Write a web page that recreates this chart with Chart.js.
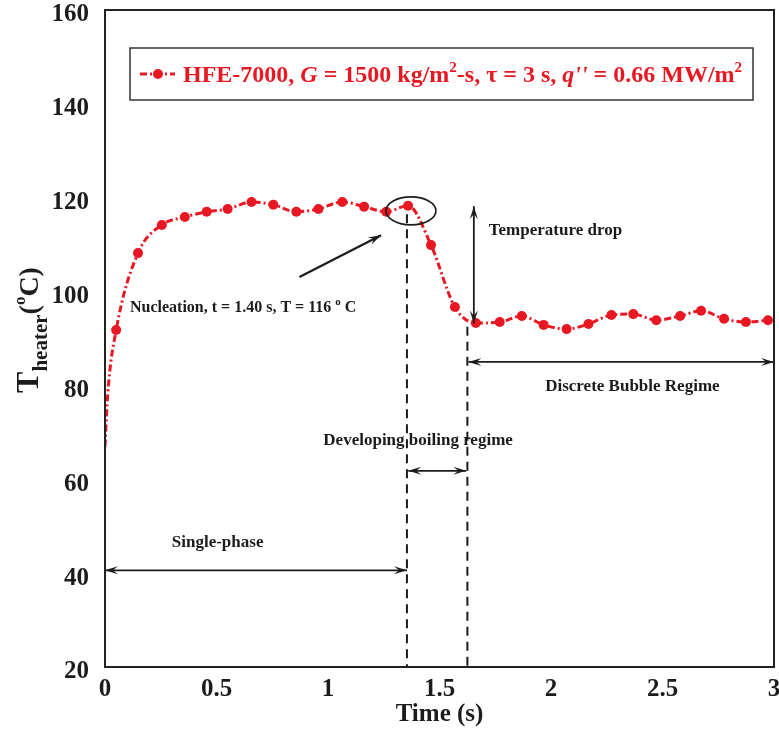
<!DOCTYPE html>
<html>
<head>
<meta charset="utf-8">
<script src="https://cdn.jsdelivr.net/npm/chart.js@4.4.0/dist/chart.umd.min.js"></script>
<style>
  html, body { margin: 0; padding: 0; background: #fff; }
  #wrap { width: 779px; height: 730px; }
</style>
</head>
<body>
<div id="wrap"><canvas id="heater-chart" width="779" height="730"></canvas></div>
<script>
// heater temperature history
const timeSec = [0, 0.012, 0.05, 0.148, 0.255, 0.358, 0.456, 0.55, 0.657, 0.755, 0.858,
  0.957, 1.064, 1.162, 1.261, 1.359, 1.462, 1.569, 1.663, 1.77, 1.869, 1.967, 2.07,
  2.168, 2.271, 2.369, 2.472, 2.579, 2.673, 2.776, 2.874, 2.973];
const tHeater = [67, 78, 91.8, 108.2, 114.2, 115.9, 117.0, 117.6, 119.1, 118.5, 117.0,
  117.6, 119.1, 118.1, 117.0, 118.3, 109.9, 96.7, 93.3, 93.5, 94.8, 92.9, 92.0,
  93.1, 95.0, 95.2, 93.9, 94.8, 95.9, 94.2, 93.5, 93.9];
const xTicks = [0, 0.5, 1, 1.5, 2, 2.5, 3];
const yTicks = [20, 40, 60, 80, 100, 120, 140, 160];

const RED = 'rgb(232,24,34)';
const INK = '#1c1c1c';
const SERIF = '"Liberation Serif", "Times New Roman", serif';

function font(size, style) {
  return (style || 'bold') + ' ' + size + 'px ' + SERIF;
}

// draw a run of text pieces: {t, size, style, dy}
function drawRuns(ctx, runs, x, y) {
  runs.forEach(r => {
    ctx.font = font(r.size, r.style);
    ctx.fillText(r.t, x, y + (r.dy || 0));
    x += ctx.measureText(r.t).width;
  });
  return x;
}

function runsWidth(ctx, runs) {
  let w = 0;
  runs.forEach(r => { ctx.font = font(r.size, r.style); w += ctx.measureText(r.t).width; });
  return w;
}

function arrowHead(ctx, x1, y1, x2, y2) {
  let ang = Math.atan2(y2 - y1, x2 - x1);
  let len = 13, half = 4;
  ctx.beginPath();
  ctx.moveTo(x2, y2);
  ctx.lineTo(x2 - len * Math.cos(ang) + half * Math.sin(ang), y2 - len * Math.sin(ang) - half * Math.cos(ang));
  ctx.lineTo(x2 - 0.6 * len * Math.cos(ang), y2 - 0.6 * len * Math.sin(ang));
  ctx.lineTo(x2 - len * Math.cos(ang) - half * Math.sin(ang), y2 - len * Math.sin(ang) + half * Math.cos(ang));
  ctx.closePath();
  ctx.fill();
}

function arrow(ctx, x1, y1, x2, y2, both) {
  ctx.beginPath();
  ctx.moveTo(x1, y1);
  ctx.lineTo(x2, y2);
  ctx.stroke();
  arrowHead(ctx, x1, y1, x2, y2);
  if (both) arrowHead(ctx, x2, y2, x1, y1);
}

const annotations = {
  id: 'annotations',
  afterDatasetsDraw(chart) {
    const { ctx, chartArea: a, scales } = chart;
    const X = v => scales.x.getPixelForValue(v);
    const Y = v => scales.y.getPixelForValue(v);
    ctx.save();

    // frame
    ctx.strokeStyle = '#222';
    ctx.lineWidth = 2;
    ctx.strokeRect(a.left, a.top, a.right - a.left, a.bottom - a.top);

    ctx.strokeStyle = INK;
    ctx.fillStyle = INK;
    ctx.lineWidth = 2;

    // regime boundaries
    ctx.setLineDash([9, 6]);
    ctx.beginPath();
    ctx.moveTo(X(1.354), Y(116.5));
    ctx.lineTo(X(1.354), a.bottom);
    ctx.moveTo(X(1.625), Y(92.5));
    ctx.lineTo(X(1.625), a.bottom);
    ctx.stroke();
    ctx.setLineDash([]);

    // nucleation ellipse + pointer
    ctx.lineWidth = 1.6;
    ctx.beginPath();
    ctx.ellipse(X(1.372), Y(117.2), 25, 14, 0, 0, Math.PI * 2);
    ctx.stroke();
    ctx.lineWidth = 2.2;
    arrow(ctx, X(0.872), Y(103.1), X(1.238), Y(112.0), false);

    // temperature drop
    ctx.lineWidth = 1.8;
    arrow(ctx, X(1.654), Y(93.2), X(1.654), Y(118.2), true);

    // regime spans
    arrow(ctx, X(1.63), Y(85.0), X(3.0), Y(85.0), true);
    arrow(ctx, X(1.36), Y(61.8), X(1.62), Y(61.8), true);
    arrow(ctx, X(0), Y(40.6), X(1.354), Y(40.6), true);

    // annotation text
    ctx.textBaseline = 'middle';
    ctx.textAlign = 'left';
    drawRuns(ctx, [
      { t: 'Nucleation, t = 1.40 s, T = 116 ', size: 16 },
      { t: 'o', size: 11, dy: -6 },
      { t: ' C', size: 16 }
    ], X(0.112), Y(96.5));
    ctx.font = font(17);
    ctx.fillText('Temperature drop', X(1.721), Y(112.9));
    ctx.textAlign = 'center';
    ctx.fillText('Discrete Bubble Regime', X(2.365), Y(79.7));
    ctx.fillText('Developing boiling regime', X(1.404), Y(68.2));
    ctx.fillText('Single-phase', X(0.505), Y(46.4));

    // legend box
    ctx.textAlign = 'left';
    ctx.lineWidth = 1.5;
    ctx.strokeStyle = '#333';
    ctx.fillStyle = '#fff';
    ctx.fillRect(130, 48, 623, 52);
    ctx.strokeRect(130, 48, 623, 52);
    ctx.strokeStyle = RED;
    ctx.fillStyle = RED;
    ctx.lineWidth = 3;
    ctx.setLineDash([7, 3, 2, 3]);
    ctx.beginPath();
    ctx.moveTo(140, 74);
    ctx.lineTo(175, 74);
    ctx.stroke();
    ctx.setLineDash([]);
    ctx.beginPath();
    ctx.arc(158, 74, 5, 0, Math.PI * 2);
    ctx.fill();
    ctx.textBaseline = 'alphabetic';
    drawRuns(ctx, [
      { t: 'HFE-7000, ', size: 24 },
      { t: 'G', size: 24, style: 'italic bold' },
      { t: ' = 1500 kg/m', size: 24 },
      { t: '2', size: 15, dy: -10 },
      { t: '-s, \u03c4 = 3 s, ', size: 24 },
      { t: 'q\'\'', size: 24, style: 'italic bold' },
      { t: ' = 0.66 MW/m', size: 24 },
      { t: '2', size: 15, dy: -10 }
    ], 183, 82);

    // y axis title, rotated
    ctx.fillStyle = INK;
    const title = [
      { t: 'T', size: 32 },
      { t: 'heater', size: 21, dy: 9 },
      { t: '(', size: 28 },
      { t: 'o', size: 17, dy: -13 },
      { t: 'C)', size: 28 }
    ];
    ctx.translate(38, 330);
    ctx.rotate(-Math.PI / 2);
    drawRuns(ctx, title, -runsWidth(ctx, title) / 2, 0);

    ctx.restore();
  }
};

const points = timeSec.map((t, i) => ({ x: t, y: tHeater[i] }));

new Chart(document.getElementById('heater-chart'), {
  type: 'scatter',
  data: {
    datasets: [{
      label: 'HFE-7000, G = 1500 kg/m2-s, \u03c4 = 3 s, q\'\' = 0.66 MW/m2',
      data: points,
      showLine: true,
      borderColor: RED,
      backgroundColor: RED,
      borderWidth: 3,
      borderDash: [7, 3, 2, 3],
      cubicInterpolationMode: 'monotone',
      pointRadius: ctx => ctx.dataIndex < 2 ? 0 : 5,
      pointBorderWidth: 0,
      pointBackgroundColor: RED
    }]
  },
  options: {
    responsive: false,
    animation: false,
    devicePixelRatio: 1,
    layout: { padding: { top: 10, right: 2, left: 0, bottom: 0 } },
    plugins: {
      legend: { display: false },
      tooltip: { enabled: false }
    },
    scales: {
      x: {
        type: 'linear',
        min: 0,
        max: 3,
        afterBuildTicks: s => { s.ticks = xTicks.map(v => ({ value: v })); },
        afterFit: s => { s.height = 63; s.paddingLeft = 0; s.paddingRight = 0; },
        grid: { display: false, drawTicks: false },
        border: { display: false },
        ticks: {
          color: INK, padding: 8, maxRotation: 0,
          callback: v => String(v),
          font: { family: SERIF, size: 25, weight: 'bold' }
        },
        title: {
          display: true,
          text: 'Time (s)',
          color: INK,
          padding: { top: 0, bottom: 0 },
          font: { family: SERIF, size: 25, weight: 'bold' }
        }
      },
      y: {
        type: 'linear',
        min: 20,
        max: 160,
        afterBuildTicks: s => { s.ticks = yTicks.map(v => ({ value: v })); },
        afterFit: s => { s.width = 105; s.paddingTop = 0; s.paddingBottom = 0; },
        grid: { display: false, drawTicks: false },
        border: { display: false },
        ticks: { color: INK, padding: 16, labelOffset: 5, font: { family: SERIF, size: 25, weight: 'bold' } }
      }
    }
  },
  plugins: [annotations]
});
</script>
</body>
</html>
